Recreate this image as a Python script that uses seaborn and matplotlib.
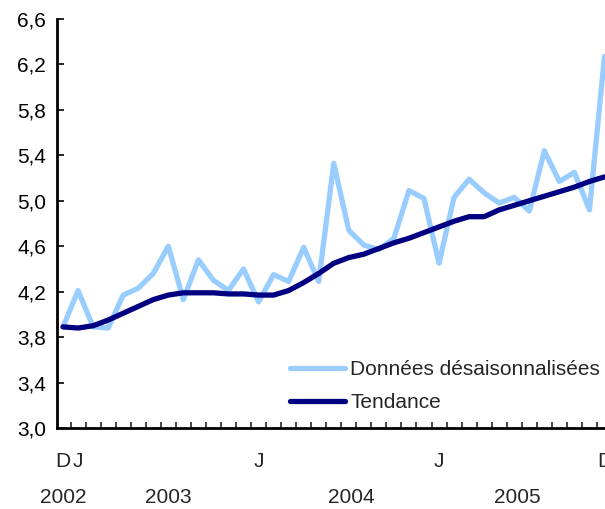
import numpy as np
import pandas as pd
import matplotlib
matplotlib.use("Agg")
import matplotlib.pyplot as plt
import seaborn as sns
from matplotlib.ticker import FuncFormatter

# monthly values, Dec 2002 .. Dec 2005 (37 months)
donnees = [3.89, 4.21, 3.89, 3.88, 4.17, 4.23, 4.36, 4.60, 4.13, 4.48,
           4.30, 4.21, 4.40, 4.11, 4.35, 4.29, 4.59, 4.29, 5.33, 4.74,
           4.61, 4.57, 4.67, 5.09, 5.02, 4.45, 5.03, 5.19, 5.07, 4.98,
           5.03, 4.91, 5.44, 5.17, 5.25, 4.92, 6.27]
tendance = [3.89, 3.88, 3.90, 3.95, 4.01, 4.07, 4.13, 4.17, 4.19, 4.19,
            4.19, 4.18, 4.18, 4.17, 4.17, 4.21, 4.28, 4.36, 4.45, 4.50,
            4.53, 4.58, 4.63, 4.67, 4.72, 4.77, 4.82, 4.86, 4.86, 4.92,
            4.96, 5.00, 5.04, 5.08, 5.12, 5.17, 5.21]
series_names = ["Données désaisonnalisées", "Tendance"]
y_ticks = [3.0, 3.4, 3.8, 4.2, 4.6, 5.0, 5.4, 5.8, 6.2, 6.6]
month_ticks = [0, 1, 13, 25, 36]
month_labels = ["D", "J", "J", "J", "D"]
year_labels = ["2002", "2003", "2004", "2005"]
year_pos = [0, 7, 19.2, 30.2]

months = np.arange(len(donnees))
df = pd.DataFrame({
    "mois": np.concatenate([months, months]),
    "valeur": donnees + tendance,
    "serie": [series_names[0]] * len(donnees) + [series_names[1]] * len(tendance),
})

sns.set_style("white")
plt.rcParams["font.family"] = ["Liberation Sans", "DejaVu Sans"]
fs = 15

fig = plt.figure(figsize=(6.05, 5.09), dpi=100)
ax = fig.add_axes([57 / 605, 81 / 509, 555 / 605, 409 / 509])

sns.lineplot(data=df, x="mois", y="valeur", hue="serie",
             palette=["#99ccff", "#000080"], linewidth=3.8, ax=ax)

ax.set_xlim(-0.4, 36.5)
ax.set_ylim(3.0, 6.6)
ax.set_yticks(y_ticks)
ax.yaxis.set_major_formatter(FuncFormatter(lambda v, p: f"{v:.1f}".replace(".", ",")))
ax.tick_params(axis="y", direction="in", length=5, width=1.2, left=True,
               labelsize=fs, pad=8, colors="black")

ax.set_xticks(month_ticks)
ax.set_xticklabels(month_labels)
ax.set_xticks(np.arange(0.5, 36.5, 1), minor=True)
ax.tick_params(axis="x", which="major", length=0, pad=17, labelsize=fs)
ax.tick_params(axis="x", which="minor", direction="in", length=4, width=1.2, bottom=True)

for lab, pos in zip(year_labels, year_pos):
    ax.text(pos, -0.171, lab, transform=ax.get_xaxis_transform(),
            ha="center", va="center", fontsize=fs)

ax.set_xlabel("")
ax.set_ylabel("")
for s in ["top", "right"]:
    ax.spines[s].set_visible(False)
for s in ["left", "bottom"]:
    ax.spines[s].set_color("black")
    ax.spines[s].set_linewidth(2)

ax.legend(loc="lower left", bbox_to_anchor=(0.42, 0.038), frameon=False,
          handlelength=2.64, handletextpad=0.25, labelspacing=0.68,
          borderpad=0, borderaxespad=0, fontsize=fs)

fig.savefig("out.png", dpi=100)
